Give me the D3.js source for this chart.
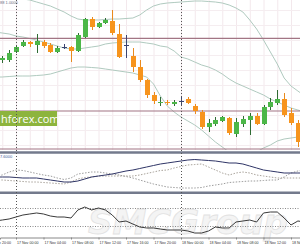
<!DOCTYPE html>
<meta charset="utf-8">
<head>
  <title>EURUSD H1 - 17/18 Nov</title>
</head>
<style>
  body { margin: 0; background: #fff; }
  svg { display: block; }
  .timeaxis text { font: 3.6px "Liberation Sans", Arial, sans-serif; fill: #333; }
  .timeaxis line { stroke: #888; }
</style>
<body>
<script src="https://cdn.jsdelivr.net/npm/d3@7"></script>
<script>
// hourly candles, first one opens 16 Nov 22:00 UTC
var firstCandle = "2016-11-16T22:00:00Z";
var opens  = [1.0640,1.0640,1.0648,1.0654,1.0658,1.0655,1.0658,1.0655,1.0648,1.0653,1.0653,1.0649,1.0663,1.0681,1.0673,1.0677,1.0679,1.0666,1.0655,1.0644,1.0633,1.0620,1.0605,1.0597,1.0598,1.0596,1.0599,1.0601,1.0594,1.0588,1.0573,1.0576,1.0579,1.0582,1.0566,1.0576,1.0580,1.0584,1.0576,1.0593,1.0597,1.0601,1.0587,1.0577];
var highs  = [1.0644,1.0650,1.0655,1.0660,1.0659,1.0666,1.0660,1.0657,1.0654,1.0656,1.0654,1.0667,1.0682,1.0683,1.0678,1.0682,1.0690,1.0676,1.0665,1.0652,1.0640,1.0621,1.0608,1.0603,1.0600,1.0600,1.0603,1.0603,1.0596,1.0590,1.0581,1.0583,1.0584,1.0583,1.0582,1.0584,1.0587,1.0587,1.0595,1.0602,1.0610,1.0607,1.0592,1.0580];
var lows   = [1.0637,1.0638,1.0647,1.0653,1.0653,1.0647,1.0652,1.0647,1.0647,1.0651,1.0638,1.0648,1.0662,1.0670,1.0672,1.0676,1.0665,1.0642,1.0642,1.0628,1.0618,1.0602,1.0596,1.0594,1.0595,1.0594,1.0594,1.0596,1.0586,1.0571,1.0568,1.0574,1.0578,1.0565,1.0563,1.0573,1.0565,1.0575,1.0575,1.0590,1.0595,1.0583,1.0575,1.0553];
var closes = [1.0642,1.0647,1.0653,1.0658,1.0656,1.0659,1.0654,1.0648,1.0652,1.0653,1.0649,1.0665,1.0681,1.0673,1.0677,1.0680,1.0667,1.0643,1.0655,1.0633,1.0620,1.0605,1.0599,1.0598,1.0597,1.0598,1.0599,1.0597,1.0589,1.0573,1.0577,1.0580,1.0583,1.0567,1.0578,1.0581,1.0584,1.0576,1.0593,1.0598,1.0601,1.0585,1.0577,1.0558];

// indicator series, hourly from 16 Nov 21:00 UTC
var seriesStart = "2016-11-16T21:00:00Z";
var upperBand  = [1.0715,1.0710,1.0706,1.0703,1.0701,1.0700,1.0698,1.0696,1.0694,1.0691,1.0688,1.0684,1.0681,1.0680,1.0680,1.0680,1.06805,1.0681,1.0681,1.06815,1.0682,1.0685,1.0690,1.0694,1.0696,1.0697,1.06975,1.0698,1.06985,1.0699,1.0699,1.06985,1.0698,1.0697,1.0695,1.0692,1.0688,1.0680,1.0671,1.0660,1.0648,1.0636,1.0622,1.0614,1.0609,1.0604];
var middleBand = [1.0668,1.0667,1.0666,1.0664,1.0663,1.06615,1.0660,1.0658,1.0656,1.0654,1.0652,1.0651,1.0651,1.0652,1.0653,1.0654,1.0656,1.0657,1.06575,1.0658,1.0658,1.0658,1.0657,1.0656,1.0654,1.0653,1.0649,1.0643,1.0641,1.0638,1.0635,1.0633,1.0630,1.0626,1.0621,1.0617,1.0614,1.0611,1.0608,1.0605,1.0601,1.0598,1.0595,1.0592,1.0590,1.0588];
var lowerBand  = [1.0623,1.0623,1.06235,1.0624,1.0624,1.0624,1.06245,1.0625,1.0626,1.0628,1.0630,1.0632,1.0633,1.0633,1.06325,1.0632,1.0631,1.0630,1.0629,1.0628,1.0627,1.0625,1.0623,1.0616,1.0604,1.0594,1.0588,1.0583,1.0579,1.0575,1.0570,1.0564,1.0558,1.0553,1.0548,1.0545,1.0544,1.0545,1.0548,1.0552,1.0555,1.0559,1.0561,1.0562,1.0563,1.0564];
var adx     = [14,14,14,13.5,13,13,13,12,11,10,9,9,10,12,14,15,16,17,18.5,20,21,22.5,24,25.5,27,28,29,30,31,31.5,31,30.5,30,29,28,28,27,25,23,21,20,19,18,18,18,18];
var plusDI  = [15,16,19,21,20.5,19,17.5,16,15,13,11.5,13,17,18,19,19,18,17,16,14.5,13,11,9,7,5.5,4,3.5,3,3,3,3.5,5,6,7,8.5,9,9.5,10,10,10.5,11,11,14,18,20,21];
var minusDI = [11,11,10.5,10,9.5,9,9,8.5,8,7.5,7,9,12,13.5,14,15,15,15,15,15,15,16,17.5,19,20.5,21,23,24.5,26,26.5,27,24,21,18,16,18,19,18,16,15,14,13,13,13,13,13];
var rsi     = [41.1,43.3,45.6,50.0,54.4,56.7,58.9,56.7,52.2,50.0,50.0,47.8,65.6,72.2,65.6,70.0,65.6,54.4,38.9,41.1,34.4,27.8,25.6,25.6,23.3,21.1,21.1,21.1,18.9,14.4,14.4,18.9,27.8,25.6,25.6,38.9,41.1,43.3,38.9,58.9,61.1,61.1,47.8,32.2,41.1,38.9];

var levels = [1.06617, 1.0589, 1.0551];
var rsiLevels = [70, 30];
var tickTimes = ["2016-11-16T20:00:00Z","2016-11-17T00:00:00Z","2016-11-17T04:00:00Z","2016-11-17T08:00:00Z",
                 "2016-11-17T12:00:00Z","2016-11-17T16:00:00Z","2016-11-17T20:00:00Z","2016-11-18T00:00:00Z",
                 "2016-11-18T04:00:00Z","2016-11-18T08:00:00Z","2016-11-18T12:00:00Z","2016-11-18T16:00:00Z"];
var dayLines = ["2016-11-17T00:00:00Z", "2016-11-18T00:00:00Z"];

var width = 300, height = 250;
var HOUR = 3600e3;
var t0 = Date.parse("2016-11-17T00:00:00Z");

var x = d3.scaleUtc()
    .domain([new Date(t0 - 16 / 6.875 * HOUR), new Date(t0 + 284 / 6.875 * HOUR)])
    .range([0, width]);
var y = d3.scaleLinear().domain([1.0552, 1.0700]).range([148, 0]);
var yAdx = d3.scaleLinear().domain([0, 38]).range([191, 153]);
var yRsi = d3.scaleLinear().domain([0, 100]).range([239.5, 194.5]);

var candles = opens.map(function(o, i) {
  return {t: new Date(Date.parse(firstCandle) + i * HOUR), o: o, h: highs[i], l: lows[i], c: closes[i]};
});
function series(vals) {
  return vals.map(function(v, i) { return {t: new Date(Date.parse(seriesStart) + i * HOUR), v: v}; });
}

var svg = d3.select("body").append("svg")
    .attr("width", width)
    .attr("height", height);

svg.append("rect").attr("width", width).attr("height", height).attr("fill", "#fff");

var defs = svg.append("defs");
defs.append("clipPath").attr("id", "mainclip")
  .append("rect").attr("x", 0).attr("y", 0).attr("width", width).attr("height", 150);
defs.append("clipPath").attr("id", "adxclip")
  .append("rect").attr("x", 0).attr("y", 154).attr("width", width).attr("height", 37);

// faint grid
var gridTimes = d3.utcHour.every(2).range(x.domain()[0], x.domain()[1]);
svg.append("g").selectAll("line")
    .data(gridTimes)
  .enter().append("line")
    .attr("x1", function(d) { return x(d) + 0.5; })
    .attr("x2", function(d) { return x(d) + 0.5; })
    .attr("y1", 0).attr("y2", 150)
    .attr("stroke", "#f3e8ec");
svg.append("g").selectAll("line")
    .data(d3.range(1.0555, 1.0700, 0.0015))
  .enter().append("line")
    .attr("x1", 0).attr("x2", width)
    .attr("y1", function(d) { return Math.round(y(d)) + 0.5; })
    .attr("y2", function(d) { return Math.round(y(d)) + 0.5; })
    .attr("stroke", "#f5edf0");

var main = svg.append("g").attr("clip-path", "url(#mainclip)");

// bollinger bands
var priceLine = d3.line()
    .x(function(d) { return x(d.t); })
    .y(function(d) { return y(d.v); });
[upperBand, middleBand, lowerBand].forEach(function(b) {
  main.append("path")
      .datum(series(b))
      .attr("d", priceLine)
      .attr("fill", "none")
      .attr("stroke", "#b0cabf")
      .attr("stroke-width", 1);
});

// support / resistance levels
main.selectAll(".level")
    .data(levels)
  .enter().append("line")
    .attr("class", "level")
    .attr("x1", 0).attr("x2", width)
    .attr("y1", function(d) { return y(d); })
    .attr("y2", function(d) { return y(d); })
    .attr("stroke", "#a27584")
    .attr("stroke-width", 1.2);

function candleColor(d, wick) {
  if (Math.abs(d.c - d.o) < 1e-7) return "#3b4470";
  if (d.c > d.o) return wick ? "#2f6b33" : "#4cb748";
  return wick ? "#e98a1e" : "#f7941d";
}

var cg = main.selectAll(".candle")
    .data(candles)
  .enter().append("g")
    .attr("class", "candle");
cg.append("line")
    .attr("x1", function(d) { return Math.round(x(d.t)) + 0.5; })
    .attr("x2", function(d) { return Math.round(x(d.t)) + 0.5; })
    .attr("y1", function(d) { return y(d.h); })
    .attr("y2", function(d) { return y(d.l); })
    .attr("stroke", function(d) { return candleColor(d, true); });
cg.append("rect")
    .attr("x", function(d) { return Math.round(x(d.t)) - 2; })
    .attr("width", 5)
    .attr("y", function(d) { return y(Math.max(d.o, d.c)); })
    .attr("height", function(d) { return Math.max(1, Math.abs(y(d.o) - y(d.c))); })
    .attr("fill", function(d) { return candleColor(d, false); });

// site label
svg.append("rect")
    .attr("x", 0).attr("y", 111).attr("width", 57).attr("height", 15)
    .attr("fill", "#8db43d");
svg.append("text")
    .attr("x", 1).attr("y", 122.5)
    .style("font-family", "'Open Sans', sans-serif")
    .style("font-size", "11px")
    .attr("fill", "#fff")
    .text("hforex.com");

svg.append("text")
    .attr("x", 0).attr("y", 4)
    .style("font-family", "'Liberation Sans', sans-serif")
    .style("font-size", "4px")
    .attr("fill", "#6b6f86")
    .text("88 1.0000");

// panel separators
[152.5, 192.8].forEach(function(sy) {
  svg.append("line")
      .attr("x1", 0).attr("x2", width)
      .attr("y1", sy).attr("y2", sy)
      .attr("stroke", "#737a8c")
      .attr("stroke-width", 2.6);
});

svg.append("text")
    .attr("x", 0).attr("y", 158)
    .style("font-family", "'Liberation Sans', sans-serif")
    .style("font-size", "4px")
    .attr("fill", "#3d5b9a")
    .text("7.6000");

// watermark
svg.append("text")
    .attr("x", 88).attr("y", 234)
    .style("font-family", "'DejaVu Sans', sans-serif")
    .style("font-size", "34px")
    .style("font-weight", "bold")
    .style("font-style", "italic")
    .attr("fill", "#f4f4f4")
    .attr("stroke", "#e2e2e2")
    .attr("stroke-width", 0.8)
    .text("SMCGroup");

// ADX panel
var adxG = svg.append("g").attr("clip-path", "url(#adxclip)");
var adxLine = d3.line()
    .x(function(d) { return x(d.t); })
    .y(function(d) { return yAdx(d.v); });
adxG.append("path").datum(series(plusDI)).attr("d", adxLine)
    .attr("fill", "none").attr("stroke", "#9c9c9c").attr("stroke-dasharray", "1.5,1.5");
adxG.append("path").datum(series(minusDI)).attr("d", adxLine)
    .attr("fill", "none").attr("stroke", "#a9a39b").attr("stroke-dasharray", "1.5,1.5");
adxG.append("path").datum(series(adx)).attr("d", adxLine)
    .attr("fill", "none").attr("stroke", "#2f3566").attr("stroke-width", 1);

// RSI panel
svg.selectAll(".rsilevel")
    .data(rsiLevels)
  .enter().append("line")
    .attr("class", "rsilevel")
    .attr("x1", 0).attr("x2", width)
    .attr("y1", function(d) { return Math.round(yRsi(d)) + 0.5; })
    .attr("y2", function(d) { return Math.round(yRsi(d)) + 0.5; })
    .attr("stroke", "#8a8a8a")
    .attr("stroke-dasharray", "1,1.5");
svg.append("path")
    .datum(series(rsi))
    .attr("d", d3.line().x(function(d) { return x(d.t); }).y(function(d) { return yRsi(d.v); }))
    .attr("fill", "none")
    .attr("stroke", "#3a3a3a")
    .attr("stroke-width", 1);

// day separators
svg.selectAll(".day")
    .data(dayLines)
  .enter().append("line")
    .attr("class", "day")
    .attr("x1", function(d) { return x(new Date(d)) + 0.5; })
    .attr("x2", function(d) { return x(new Date(d)) + 0.5; })
    .attr("y1", 0).attr("y2", 237)
    .attr("stroke", "#555")
    .attr("stroke-dasharray", "1,2");

// time axis
var xAxis = d3.axisBottom(x)
    .tickValues(tickTimes.map(function(d) { return new Date(d); }))
    .tickFormat(d3.utcFormat("%d %b %H:%M"))
    .tickSize(2);
var axisG = svg.append("g")
    .attr("class", "timeaxis")
    .attr("transform", "translate(0,237.5)")
    .call(xAxis);
axisG.select(".domain").attr("stroke", "#888");
axisG.selectAll("text")
    .attr("text-anchor", "start")
    .attr("dx", "0.5")
    .attr("y", 3.5);
</script>
</body>
